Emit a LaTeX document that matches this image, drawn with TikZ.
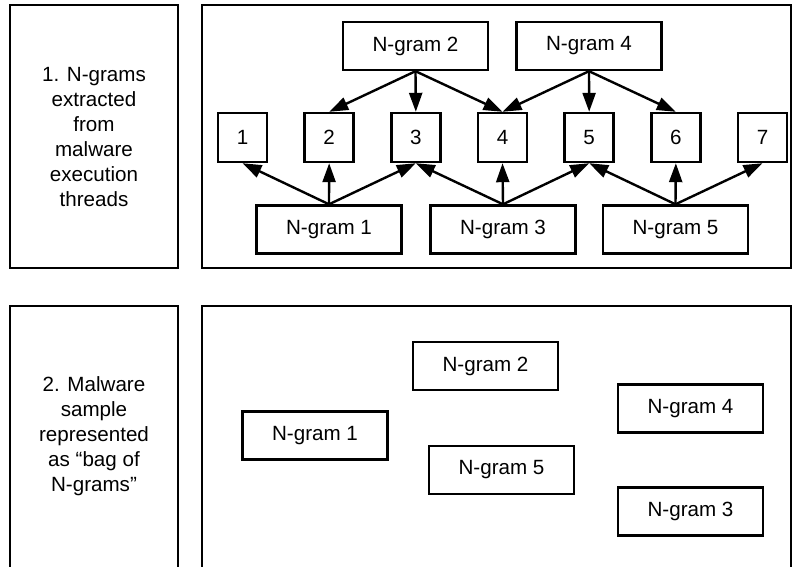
\documentclass[tikz,border=0pt]{standalone}
\usepackage{fontspec}
\setmainfont{Liberation Sans}
\usetikzlibrary{calc,arrows.meta}

\tikzset{
    gram/.style={draw, line width=1.2pt, minimum width=72.5pt, minimum height=24pt, inner sep=0pt, font=\fontsize{10.3}{12}\selectfont},
    slot/.style={draw, line width=1.2pt, minimum width=24.5pt, minimum height=24.5pt, inner sep=0pt, font=\fontsize{10.3}{12}\selectfont},
    link/.style={line width=1.2pt, -{Triangle[length=9.5pt,width=6.5pt]}},
    frame/.style={line width=1.3pt},
    caption/.style={align=center, font=\fontsize{10.3}{12.5}\selectfont}
}

\begin{document}
\begin{tikzpicture}[x=0.5pt,y=-0.5pt]
            \useasboundingbox (0,0) rectangle (793,567);
            % panels
            \draw[frame] (10,5) rectangle (178,268);
            \draw[frame] (202,5) rectangle (791,268);
            \draw[frame] (10,567) -- (10,306) -- (178,306) -- (178,567);
            \draw[frame] (202,567) -- (202,306) -- (791,306) -- (791,567);
            \node[caption] (step1) at (94,137) {1. N-grams\\extracted\\from\\malware\\execution\\threads};
            \node[caption] (step2) at (94,436) {2. Malware\\sample\\represented\\as “bag of\\N-grams”};
            % threads
            \foreach \i in {1,...,7}
                \node[slot] (s\i) at ({242.5+(\i-1)*86.67},137.5) {\i};
            \node[gram] (a2) at (415.5,46) {N-gram 2};
            \node[gram] (a4) at (589,46) {N-gram 4};
            \node[gram] (a1) at (329,229.5) {N-gram 1};
            \node[gram] (a3) at (503,229.5) {N-gram 3};
            \node[gram] (a5) at (675.5,229.5) {N-gram 5};
            \foreach \s in {2,3,4} \draw[link] (a2.south) -- (s\s.north);
            \foreach \s in {4,5,6} \draw[link] (a4.south) -- (s\s.north);
            \foreach \s in {1,2,3} \draw[link] (a1.north) -- (s\s.south);
            \foreach \s in {3,4,5} \draw[link] (a3.north) -- (s\s.south);
            \foreach \s in {5,6,7} \draw[link] (a5.north) -- (s\s.south);
            % bag of n-grams
            \node[gram] (b1) at (315,435.5) {N-gram 1};
            \node[gram] (b2) at (485.5,366) {N-gram 2};
            \node[gram] (b4) at (690.5,408.5) {N-gram 4};
            \node[gram] (b5) at (501.5,470) {N-gram 5};
            \node[gram] (b3) at (690.5,511.5) {N-gram 3};
        \end{tikzpicture}
\end{document}
